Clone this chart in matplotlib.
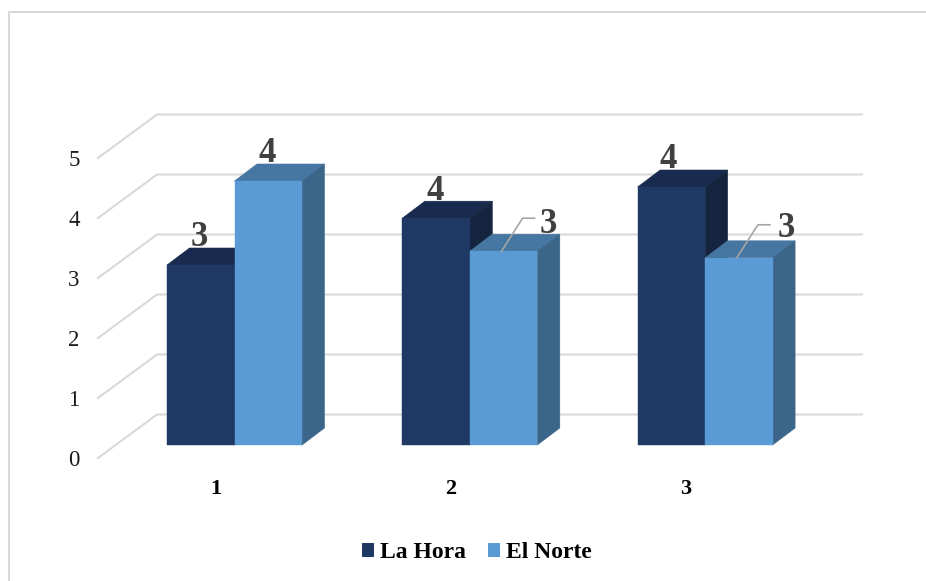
import matplotlib
matplotlib.use("Agg")
import matplotlib.pyplot as plt
from matplotlib.patches import Polygon, Rectangle
from matplotlib.lines import Line2D

categories = ["1", "2", "3"]
series_names = ["La Hora", "El Norte"]
la_hora = [3.0, 3.78, 4.3]
el_norte = [4.4, 3.23, 3.12]
label_la_hora = ["3", "4", "4"]
label_el_norte = ["4", "3", "3"]
y_ticks = [0, 1, 2, 3, 4, 5]

W, H = 926, 581
X0, XSTEP = 234.5, 235.3   # pixel of first category, pixels per category
Y0, YSTEP = 445.0, 60.0    # pixel of value 0 at the bars' front, pixels per unit
px = lambda d: d / XSTEP
py = lambda d: d / YSTEP

plt.rcParams["font.family"] = ["Liberation Serif", "DejaVu Serif"]
fig = plt.figure(figsize=(W / 100, H / 100), dpi=100)
ax = fig.add_axes([0, 0, 1, 1])
ax.set_xlim(1 + px(0 - X0), 1 + px(W - X0))
ax.set_ylim(py(Y0 - H), py(Y0))
ax.axis("off")

GRID = "#D9D9D9"
x_back_l, x_back_r, x_front = 1 + px(157 - X0), 1 + px(862 - X0), 1 + px(98 - X0)
back_dy, front_dy = py(30.5), py(-13)
for v in y_ticks:
    ax.plot([x_front, x_back_l, x_back_r], [v + front_dy, v + back_dy, v + back_dy],
            color=GRID, lw=1.5, zorder=1, solid_joinstyle="miter")
    ax.text(1 + px(74 - X0), v + py(-15), str(v), ha="center", va="center",
            fontsize=16.5, color="#1a1a1a")

bar_w = px(67.5)
dep_x, dep_y = px(22.5), py(17)
styles = [("#1F3864", "#182B4E", "#15253F"), ("#5B9BD5", "#4676A2", "#3B6589")]
for s, vals in enumerate([la_hora, el_norte]):
    front, top, side = styles[s]
    for i, v in enumerate(vals):
        left = (i + 1) - bar_w + s * bar_w
        z = 3 + i * 0.1 + s * 0.01
        r = left + bar_w
        ax.add_patch(Polygon([(left, v), (r, v), (r + dep_x, v + dep_y), (left + dep_x, v + dep_y)],
                             closed=True, fc=top, ec=top, lw=0.4, zorder=z))
        ax.add_patch(Polygon([(r, 0), (r + dep_x, dep_y), (r + dep_x, v + dep_y), (r, v)],
                             closed=True, fc=side, ec=side, lw=0.4, zorder=z))
        ax.bar(left, v, width=bar_w, align="edge", color=front, zorder=z + 0.001,
               edgecolor=front, linewidth=0.3)

for i, c in enumerate(categories):
    ax.text(i + 1 - px(19), py(-43.5), c, ha="center", va="center", fontsize=16, fontweight="bold",
            color="black", zorder=6)

LABEL = "#404040"
LFS = 25
offs_dark = [(-1, 27), (-1, 27), (-3, 27)]
for i, (v, t) in enumerate(zip(la_hora, label_la_hora)):
    left = (i + 1) - bar_w
    ax.annotate(t, (left + bar_w / 2, v), xytext=offs_dark[i], textcoords="offset pixels",
                ha="center", va="center", fontsize=LFS, fontweight="bold", color=LABEL, zorder=7)

offs_light = [(-1, 27), (45, 27), (47, 29)]
for i, (v, t) in enumerate(zip(el_norte, label_el_norte)):
    mid = (i + 1) + bar_w / 2
    ax.annotate(t, (mid, v), xytext=offs_light[i], textcoords="offset pixels",
                ha="center", va="center", fontsize=LFS, fontweight="bold", color=LABEL, zorder=7)
    if i > 0:
        ax.plot([mid - px(2), mid + px(19), mid + px(31)], [v, v + py(33), v + py(33)],
                color="#A6A6A6", lw=1.2, zorder=6)

handles = [Rectangle((0, 0), 1, 1, fc=styles[0][0]), Rectangle((0, 0), 1, 1, fc=styles[1][0])]
ax.legend(handles, series_names, loc="center", bbox_to_anchor=(477 / W, 1 - 553 / H),
          bbox_transform=fig.transFigure, frameon=False, ncol=2, handlelength=0.51, handleheight=0.51,
          handletextpad=0.25, columnspacing=0.93, prop={"family": "Liberation Serif", "weight": "bold", "size": 17})

fig.add_artist(Line2D([8.5 / W, 8.5 / W, 1], [0, 1 - 12 / H, 1 - 12 / H],
                      color="#D9D9D9", lw=1.5, transform=fig.transFigure))

fig.savefig("out.png", dpi=100)
